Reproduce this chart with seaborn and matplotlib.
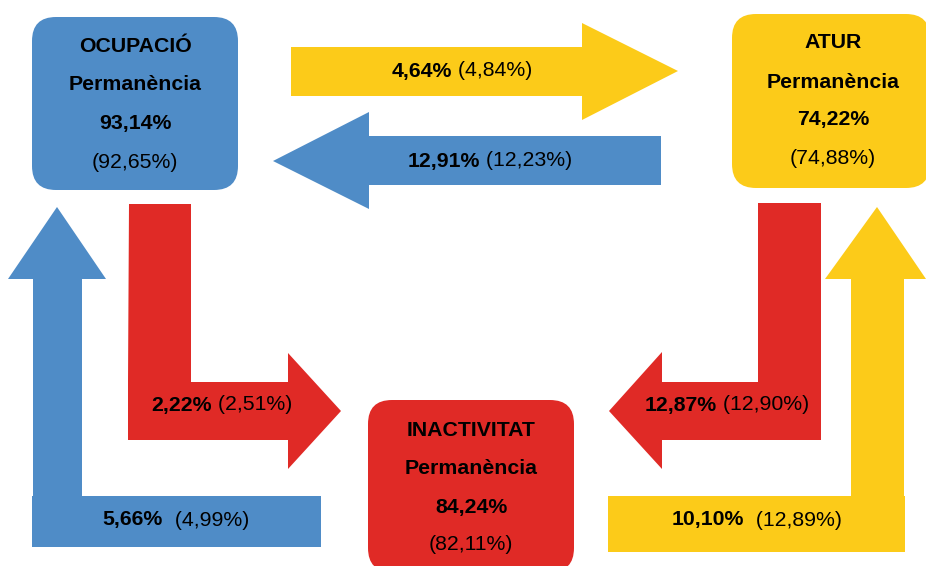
import matplotlib
matplotlib.use("Agg")
import matplotlib.pyplot as plt
import seaborn as sns
from matplotlib.patches import Polygon, Rectangle, FancyBboxPatch
from matplotlib.offsetbox import TextArea, HPacker, AnnotationBbox

# ---------------- data ----------------
states = ["OCUPACIÓ", "ATUR", "INACTIVITAT"]
perm_label = "Permanència"
permanence = [93.14, 74.22, 84.24]
permanence_prev = [92.65, 74.88, 82.11]

flow_from = ["OCUPACIÓ", "ATUR", "OCUPACIÓ", "INACTIVITAT", "ATUR", "INACTIVITAT"]
flow_to = ["ATUR", "OCUPACIÓ", "INACTIVITAT", "OCUPACIÓ", "INACTIVITAT", "ATUR"]
flow_value = [4.64, 12.91, 2.22, 5.66, 12.87, 10.10]
flow_prev = [4.84, 12.23, 2.51, 4.99, 12.90, 12.89]

# ---------------- style ----------------
sns.set_theme(style="white")
plt.rcParams["font.family"] = ["Liberation Sans", "DejaVu Sans"]

BLUE = "#4F8CC7"
YELLOW = "#FCCB19"
RED = "#E02A26"
state_colors = dict(zip(states, [BLUE, YELLOW, RED]))
FS = 15.3


def fmt(v):
    return f"{v:.2f}%".replace(".", ",")


fig = plt.figure(figsize=(9.26, 5.66), dpi=100)
ax = fig.add_axes([0, 0, 1, 1])
ax.set_xlim(0, 926)
ax.set_ylim(566, 0)
ax.axis("off")

# ---------------- state boxes ----------------
box_geom = {
    "OCUPACIÓ": (32, 17, 206, 173),
    "ATUR": (732, 14, 198, 174),
    "INACTIVITAT": (368, 400, 206, 172),
}
text_rows = {
    "OCUPACIÓ": [47, 85, 123, 162],
    "ATUR": [43, 82, 120, 158],
    "INACTIVITAT": [430, 468, 507, 545],
}
for i, s in enumerate(states):
    x, y, w, h = box_geom[s]
    ax.add_patch(FancyBboxPatch((x, y), w, h,
                                boxstyle="round,pad=0,rounding_size=24",
                                fc=state_colors[s], ec="none"))
    cx = x + w / 2 if s != "ATUR" else 833
    rows = text_rows[s]
    ax.text(cx, rows[0], s, ha="center", va="center", fontsize=FS,
            fontweight="bold", color="black")
    ax.text(cx, rows[1], perm_label, ha="center", va="center", fontsize=FS,
            fontweight="bold", color="black")
    ax.text(cx, rows[2], fmt(permanence[i]), ha="center", va="center",
            fontsize=FS, fontweight="bold", color="black")
    ax.text(cx, rows[3], "(" + fmt(permanence_prev[i]) + ")", ha="center",
            va="center", fontsize=FS, color="black")

# ---------------- arrow shapes (layout) ----------------
arrow_shapes = {
    ("OCUPACIÓ", "ATUR"): [
        Polygon([(291, 47), (582, 47), (582, 23), (678, 71), (582, 120),
                 (582, 96), (291, 96)], closed=True)],
    ("ATUR", "OCUPACIÓ"): [
        Polygon([(661, 136), (369, 136), (369, 112), (273, 161), (369, 209),
                 (369, 185), (661, 185)], closed=True)],
    ("OCUPACIÓ", "INACTIVITAT"): [
        Polygon([(129, 204), (191, 204), (191, 382), (288, 382), (288, 353),
                 (341, 411), (288, 469), (288, 440), (128, 440), (128, 382)],
                closed=True)],
    ("INACTIVITAT", "OCUPACIÓ"): [
        Polygon([(33, 497), (33, 279), (8, 279), (57, 207), (106, 279),
                 (82, 279), (82, 497)], closed=True),
        Rectangle((32, 496), 289, 51)],
    ("ATUR", "INACTIVITAT"): [
        Polygon([(821, 203), (821, 440), (662, 440), (662, 469), (609, 411),
                 (662, 352), (662, 382), (758, 382), (758, 203)], closed=True)],
    ("INACTIVITAT", "ATUR"): [
        Polygon([(851, 497), (851, 279), (825, 279), (877, 207), (926, 279),
                 (904, 279), (904, 497)], closed=True),
        Rectangle((608, 496), 297, 56)],
}
label_pos = {
    ("OCUPACIÓ", "ATUR"): (462, 71, " "),
    ("ATUR", "OCUPACIÓ"): (490, 161, " "),
    ("OCUPACIÓ", "INACTIVITAT"): (222, 405, " "),
    ("INACTIVITAT", "OCUPACIÓ"): (176, 520, "  "),
    ("ATUR", "INACTIVITAT"): (727, 405, " "),
    ("INACTIVITAT", "ATUR"): (757, 520, "  "),
}

for f, t, v, p in zip(flow_from, flow_to, flow_value, flow_prev):
    key = (f, t)
    for patch in arrow_shapes[key]:
        patch.set_facecolor(state_colors[t])
        patch.set_edgecolor("none")
        ax.add_patch(patch)
    x, y, gap = label_pos[key]
    bold = TextArea(fmt(v), textprops=dict(fontsize=FS, fontweight="bold",
                                          color="black"))
    reg = TextArea(gap + "(" + fmt(p) + ")",
                   textprops=dict(fontsize=FS, color="black"))
    pack = HPacker(children=[bold, reg], sep=0, pad=0, align="baseline")
    ab = AnnotationBbox(pack, (x, y), xycoords="data", frameon=False,
                        box_alignment=(0.5, 0.5), pad=0)
    ax.add_artist(ab)

fig.savefig("out.png", dpi=100, facecolor="white")
